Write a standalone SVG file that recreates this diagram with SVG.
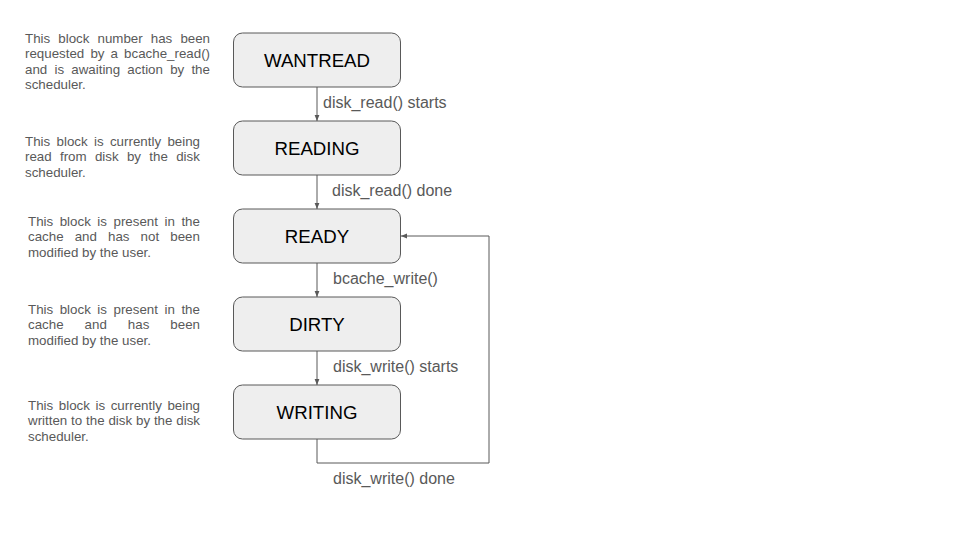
<svg xmlns="http://www.w3.org/2000/svg" width="960" height="540" viewBox="0 0 960 540">
<style>
.box{fill:#eeeeee;stroke:#595959;stroke-width:1}
.lbl{font-family:"Liberation Sans",Arial,sans-serif;font-size:18.67px;fill:#000000;text-anchor:middle}
.desc{font-family:"Liberation Sans",Arial,sans-serif;font-size:13.33px;fill:#595959}
.el{font-family:"Liberation Sans",Arial,sans-serif;font-size:16px;fill:#595959}
.conn{fill:none;stroke:#595959;stroke-width:1}
</style>
<defs>
<marker id="ah" viewBox="0 0 10 10" refX="10" refY="5" markerWidth="6" markerHeight="6" markerUnits="userSpaceOnUse" orient="auto">
<path d="M0,1 L10,5 L0,9 Z" fill="#595959"/>
</marker>
</defs>
<rect width="960" height="540" fill="#ffffff"/>

<g id="desc-wantread">
<text class="desc" y="42.5"><tspan x="25" word-spacing="4.4">This block number has been</tspan><tspan x="25" y="58" word-spacing="2.4">requested by a bcache_read()</tspan><tspan x="25" y="73.5" word-spacing="3.5">and is awaiting action by the</tspan><tspan x="25" y="89">scheduler.</tspan></text>
</g>
<g id="desc-reading">
<text class="desc" y="145.5"><tspan x="25" word-spacing="2.64">This block is currently being</tspan><tspan x="25" y="161" word-spacing="4.6">read from disk by the disk</tspan><tspan x="25" y="176.5">scheduler.</tspan></text>
</g>
<g id="desc-ready">
<text class="desc" y="225.5"><tspan x="28" word-spacing="2.83">This block is present in the</tspan><tspan x="28" y="241" word-spacing="7.4">cache and has not been</tspan><tspan x="28" y="256.5">modified by the user.</tspan></text>
</g>
<g id="desc-dirty">
<text class="desc" y="313.5"><tspan x="28" word-spacing="2.83">This block is present in the</tspan><tspan x="28" y="329" word-spacing="17.3">cache and has been</tspan><tspan x="28" y="344.5">modified by the user.</tspan></text>
</g>
<g id="desc-writing">
<text class="desc" y="409.5"><tspan x="28" word-spacing="1.89">This block is currently being</tspan><tspan x="28" y="425" word-spacing="0.14">written to the disk by the disk</tspan><tspan x="28" y="440.5">scheduler.</tspan></text>
</g>

<g id="connectors">
<path class="conn" d="M317,87 V121" marker-end="url(#ah)"/>
<path class="conn" d="M317,175 V209" marker-end="url(#ah)"/>
<path class="conn" d="M317,263 V297" marker-end="url(#ah)"/>
<path class="conn" d="M317,351 V385" marker-end="url(#ah)"/>
<path class="conn" d="M317,439 V463 H489 V236 H401" marker-end="url(#ah)"/>
<text class="el" x="323" y="107.5">disk_read() starts</text>
<text class="el" x="332" y="195.5">disk_read() done</text>
<text class="el" x="333" y="283.5">bcache_write()</text>
<text class="el" x="333" y="371.5">disk_write() starts</text>
<text class="el" x="333" y="484">disk_write() done</text>
</g>

<g id="wantread">
<rect class="box" x="233.5" y="33" width="167" height="54" rx="9"/>
<text class="lbl" x="317" y="66.7">WANTREAD</text>
</g>
<g id="reading">
<rect class="box" x="233.5" y="121" width="167" height="54" rx="9"/>
<text class="lbl" x="317" y="154.7">READING</text>
</g>
<g id="ready">
<rect class="box" x="233.5" y="209" width="167" height="54" rx="9"/>
<text class="lbl" x="317" y="242.7">READY</text>
</g>
<g id="dirty">
<rect class="box" x="233.5" y="297" width="167" height="54" rx="9"/>
<text class="lbl" x="317" y="330.7">DIRTY</text>
</g>
<g id="writing">
<rect class="box" x="233.5" y="385" width="167" height="54" rx="9"/>
<text class="lbl" x="317" y="418.7">WRITING</text>
</g>
</svg>
